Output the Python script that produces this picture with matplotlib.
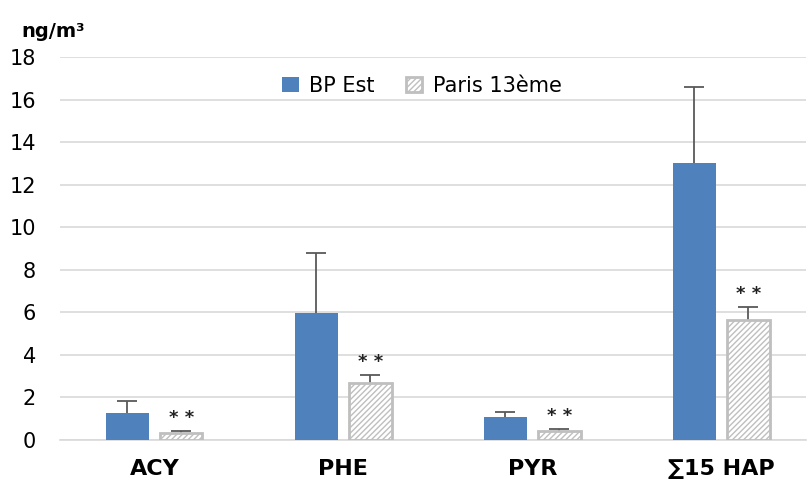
import matplotlib.pyplot as plt
import numpy as np

plt.rcParams['hatch.linewidth'] = 1.0

labels = ['ACY', 'PHE', 'PYR', '∑15 HAP']
bp_est = np.array([1.27, 5.95, 1.08, 13.0])
bp_est_sd = np.array([0.58, 2.85, 0.22, 3.58])
paris13 = np.array([0.33, 2.68, 0.42, 5.65])
paris13_sd = np.array([0.07, 0.37, 0.1, 0.6])
stars = ['* *', '* *', '* *', '* *']

x = np.arange(len(labels))
width = 0.225
gap = 0.03

fig = plt.figure(figsize=(8.08, 4.87), dpi=100)
ax = fig.add_axes([0.074, 0.0965, 0.924, 0.7865])

x1 = x - width / 2 - gap
x2 = x + width / 2 + gap
ax.bar(x1, bp_est, width, color='#4f81bd', label='BP Est', zorder=3)
ax.bar(x2, paris13, width, color='white', edgecolor='#bfbfbf',
       linewidth=2, hatch='//////', label='Paris 13ème', zorder=3)
# only upper half shows, lower half sits behind the bars
ax.errorbar(x1, bp_est, yerr=bp_est_sd, fmt='none', ecolor='#595959',
            elinewidth=1.3, capsize=7, capthick=1.3, zorder=2)
ax.errorbar(x2, paris13, yerr=paris13_sd, fmt='none', ecolor='#595959',
            elinewidth=1.3, capsize=7, capthick=1.3, zorder=2)

for xi, v, s, t in zip(x2, paris13, paris13_sd, stars):
    ax.text(xi, v + s + 0.2, t, ha='center', va='bottom',
            fontsize=13, fontweight='bold', color='#222222')

ax.set_ylim(0, 18)
ax.set_xlim(-0.5, 3.45)
ax.set_yticks(np.arange(0, 19, 2))
ax.set_xticks(x)
ax.set_xticklabels(labels, fontsize=16, fontweight='bold')
ax.tick_params(axis='y', labelsize=15, length=0, pad=17)
ax.tick_params(axis='x', length=0, pad=14)
ax.grid(axis='y', color='#d9d9d9', linewidth=1.2, zorder=0)
for sp in ['top', 'right', 'left']:
    ax.spines[sp].set_visible(False)
ax.spines['bottom'].set_color('#d9d9d9')
ax.spines['bottom'].set_linewidth(1.2)

fig.text(0.027, 0.935, 'ng/m³', fontsize=14, fontweight='bold', va='center')

ax.legend(loc='upper center', bbox_to_anchor=(0.485, 1.0), ncol=2, frameon=False,
          fontsize=15, handlelength=0.8, handleheight=0.8, columnspacing=1.5,
          handletextpad=0.5)

plt.savefig('out.png', dpi=100)
